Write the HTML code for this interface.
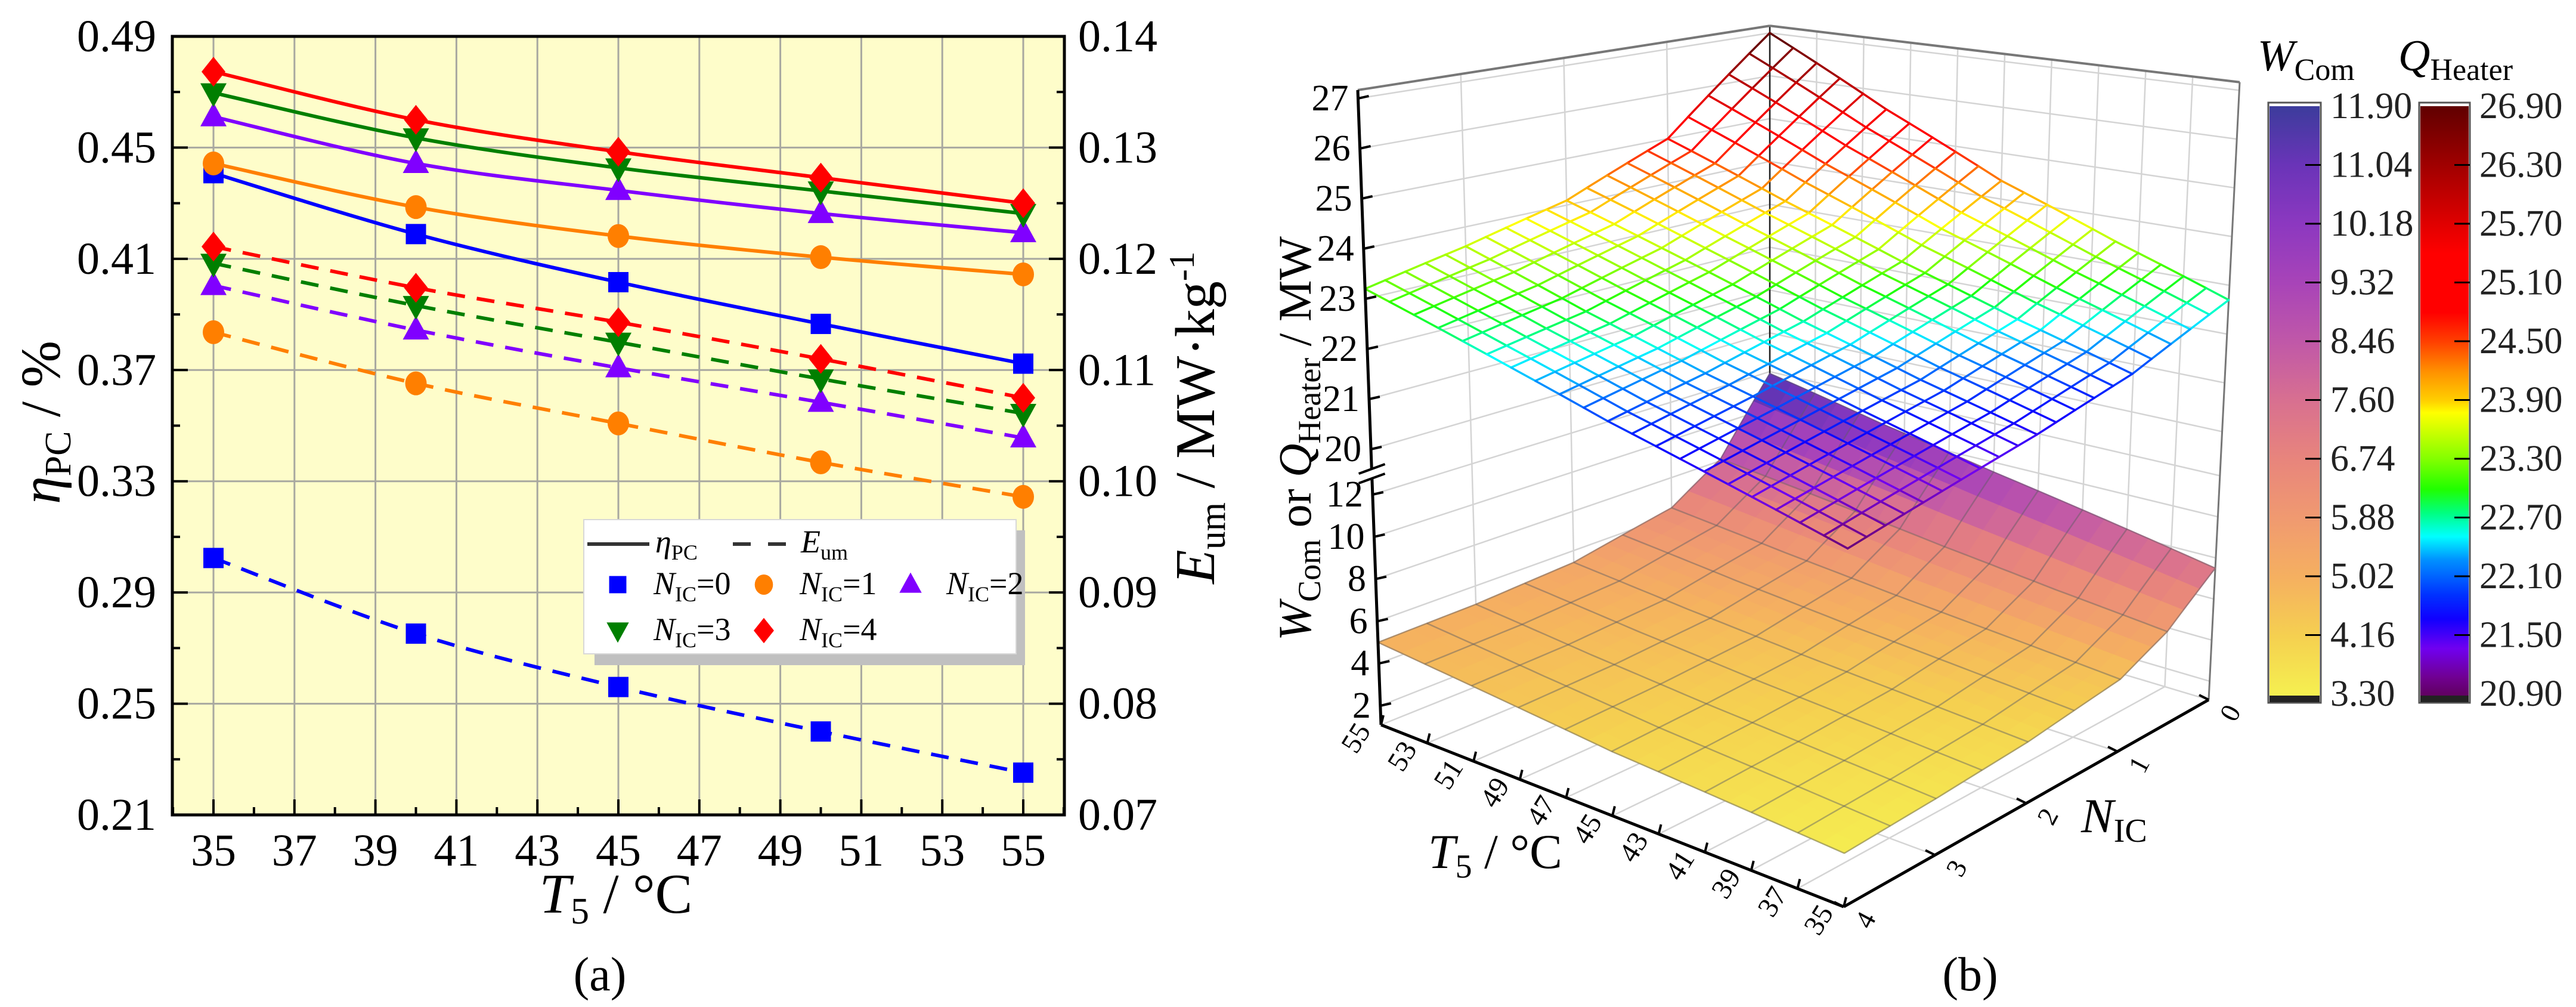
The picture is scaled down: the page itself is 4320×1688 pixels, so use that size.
<!DOCTYPE html>
<html><head><meta charset="utf-8"><title>Chart</title>
<style>
html,body{margin:0;padding:0;background:#fff;}
svg{display:block;}
svg text{font-family:"Liberation Serif","Times New Roman",Times,serif;}
</style></head>
<body>
<svg id="root" width="4320" height="1688" viewBox="0 0 4320 1688" xmlns="http://www.w3.org/2000/svg" font-family="Liberation Serif, Times New Roman, serif">
<rect x="0" y="0" width="4320" height="1688" fill="#ffffff"/>
<defs>
<linearGradient id="wgrad" x1="0" y1="0" x2="0" y2="1">
<stop offset="0" stop-color="#3c3c9c"/><stop offset="0.1" stop-color="#6a34b8"/><stop offset="0.2" stop-color="#8c38c0"/><stop offset="0.3" stop-color="#a844b8"/><stop offset="0.4" stop-color="#c058a8"/><stop offset="0.5" stop-color="#d87090"/><stop offset="0.6" stop-color="#e8857c"/><stop offset="0.7" stop-color="#f09a70"/><stop offset="0.8" stop-color="#f5b060"/><stop offset="0.9" stop-color="#f5d050"/><stop offset="1" stop-color="#f5f050"/>
</linearGradient>
<linearGradient id="qgrad" x1="0" y1="0" x2="0" y2="1">
<stop offset="0" stop-color="#600000"/><stop offset="0.1" stop-color="#a00000"/><stop offset="0.2" stop-color="#e00000"/><stop offset="0.25" stop-color="#ff0000"/><stop offset="0.35" stop-color="#ff0000"/><stop offset="0.4" stop-color="#ff4000"/><stop offset="0.45" stop-color="#ff9000"/><stop offset="0.5" stop-color="#ffd000"/><stop offset="0.52" stop-color="#ffff00"/><stop offset="0.6" stop-color="#80ff00"/><stop offset="0.65" stop-color="#20ff00"/><stop offset="0.69" stop-color="#00ff80"/><stop offset="0.73" stop-color="#00ffff"/><stop offset="0.77" stop-color="#0090ff"/><stop offset="0.83" stop-color="#0030ff"/><stop offset="0.87" stop-color="#1000ff"/><stop offset="0.92" stop-color="#7000f0"/><stop offset="0.97" stop-color="#700090"/><stop offset="1" stop-color="#600060"/>
</linearGradient>
</defs>
<g id="chartA"></g>
<g id="chartB"></g>
</svg>
<script>
// ===== Chart (a) data =====
const T5 = [35, 40, 45, 50, 55];
const etaPC_N0 = [0.4408, 0.4189, 0.4016, 0.3866, 0.3723];
const etaPC_N1 = [0.4443, 0.4286, 0.4182, 0.4106, 0.4044];
const etaPC_N2 = [0.4611, 0.4443, 0.4346, 0.4263, 0.4194];
const etaPC_N3 = [0.4697, 0.4535, 0.4427, 0.4344, 0.4263];
const etaPC_N4 = [0.4773, 0.4600, 0.4485, 0.4392, 0.4300];
const Eum_N0 = [0.0931, 0.0863, 0.0815, 0.0775, 0.0738];
const Eum_N1 = [0.1134, 0.1088, 0.1052, 0.1017, 0.0986];
const Eum_N2 = [0.1176, 0.1136, 0.1102, 0.1071, 0.1039];
const Eum_N3 = [0.1196, 0.1158, 0.1125, 0.1092, 0.1061];
const Eum_N4 = [0.1211, 0.1174, 0.1143, 0.1110, 0.1075];
const xTicks = [35, 37, 39, 41, 43, 45, 47, 49, 51, 53, 55];
const yLeftTicks = ["0.21", "0.25", "0.29", "0.33", "0.37", "0.41", "0.45", "0.49"];
const yRightTicks = ["0.07", "0.08", "0.09", "0.10", "0.11", "0.12", "0.13", "0.14"];
const seriesLabels = ["0", "1", "2", "3", "4"];

// ===== Chart (b) data =====
const gridT = [35, 40, 45, 50, 55];
const gridNW = [0, 0.5, 1, 2, 3, 4];
const W_N0 = [7.5, 8.5, 9.5, 10.6, 11.9];
const W_N05 = [5.6, 6.1, 6.7, 7.4, 8.1];
const W_N1 = [4.5, 4.9, 5.3, 5.8, 6.4];
const W_N2 = [3.9, 4.2, 4.5, 4.9, 5.4];
const W_N3 = [3.6, 3.9, 4.2, 4.6, 5.1];
const W_N4 = [3.4, 3.7, 4.0, 4.5, 5.0];
const gridNQ = [0, 1, 2, 3, 4];
const Q_N0 = [22.7, 23.5, 24.4, 25.6, 27.0];
const Q_N1 = [22.0, 22.6, 23.3, 24.1, 25.0];
const Q_N2 = [21.6, 22.1, 22.7, 23.4, 24.1];
const Q_N3 = [21.3, 21.8, 22.3, 22.9, 23.6];
const Q_N4 = [21.0, 21.5, 22.0, 22.6, 23.2];
const wBarLabels = ["11.90", "11.04", "10.18", "9.32", "8.46", "7.60", "6.74", "5.88", "5.02", "4.16", "3.30"];
const qBarLabels = ["26.90", "26.30", "25.70", "25.10", "24.50", "23.90", "23.30", "22.70", "22.10", "21.50", "20.90"];
const zTicksW = [2, 4, 6, 8, 10, 12];
const zTicksQ = [20, 21, 22, 23, 24, 25, 26, 27];
const tAxisTicks = [55, 53, 51, 49, 47, 45, 43, 41, 39, 37, 35];
const nAxisTicks = [0, 1, 2, 3, 4];

const NS = 'http://www.w3.org/2000/svg';
function mk(tag, attrs, parent) {
  const e = document.createElementNS(NS, tag);
  for (const k in attrs) e.setAttribute(k, attrs[k]);
  parent.appendChild(e);
  return e;
}
function subText(parent, x, y, parts, attrs) {
  const t = mk('text', Object.assign({x: x, y: y}, attrs || {}), parent);
  parts.forEach(p => {
    const s = mk('tspan', {}, t);
    if (p.i) s.setAttribute('font-style', 'italic');
    if (p.dy) s.setAttribute('dy', p.dy);
    if (p.fs) s.setAttribute('font-size', p.fs);
    s.textContent = p.t;
  });
  return t;
}

// ================= Chart (a) =================
const A = document.getElementById('chartA');
const PL = 289, PR = 1785, PT = 61, PB = 1366;
function xS(t) { return 358 + (t - 35) * (1716 - 358) / 20; }
function yL(v) { return PT + (0.49 - v) / 0.28 * (PB - PT); }
function yR(v) { return PT + (0.14 - v) / 0.07 * (PB - PT); }

const bg = mk('rect', {x: PL, y: PT, width: PR - PL, height: PB - PT, fill: '#fefdca'}, A);



xTicks.forEach(t => {
  const g = mk('line', {x1: xS(t), x2: xS(t), y1: PT, y2: PB, stroke: '#a8a8a0', 'stroke-width': 3}, A);
  
  
});
yLeftTicks.forEach(s => {
  const v = parseFloat(s);
  const g = mk('line', {x1: PL, x2: PR, y1: yL(v), y2: yL(v), stroke: '#a8a8a0', 'stroke-width': 3}, A);
  
  
});

for (let t = 34; t <= 56; t++) {
  const major = (t % 2 === 1);
  const len = major ? 26 : 13;
  const tk = mk('line', {x1: xS(t), x2: xS(t), y1: PB, y2: PB - len, stroke: '#000', 'stroke-width': 4}, A);
  
  
}
for (let i = 0; i <= 14; i++) {
  const y = PT + i * (PB - PT) / 14;
  const len = (i % 2 === 0) ? 26 : 13;
  const t1 = mk('line', {x1: PL, x2: PL + len, y1: y, y2: y, stroke: '#000', 'stroke-width': 4}, A);
  
  
  const t2 = mk('line', {x1: PR, x2: PR - len, y1: y, y2: y, stroke: '#000', 'stroke-width': 4}, A);
  
  
}

const colors = ['#0000ff', '#ff7f00', '#8000ff', '#007f00', '#ff0000'];
const markers = ['square', 'circle', 'tri-up', 'tri-down', 'diamond'];
const etaSeries = [etaPC_N0, etaPC_N1, etaPC_N2, etaPC_N3, etaPC_N4];
const eumSeries = [Eum_N0, Eum_N1, Eum_N2, Eum_N3, Eum_N4];

function smoothPath(pts) {
  let d = 'M' + pts[0][0] + ',' + pts[0][1];
  for (let i = 0; i < pts.length - 1; i++) {
    const p0 = pts[i - 1] || pts[i], p1 = pts[i], p2 = pts[i + 1], p3 = pts[i + 2] || pts[i + 1];
    const c1 = [p1[0] + (p2[0] - p0[0]) / 6, p1[1] + (p2[1] - p0[1]) / 6];
    const c2 = [p2[0] - (p3[0] - p1[0]) / 6, p2[1] - (p3[1] - p1[1]) / 6];
    d += ' C' + c1[0] + ',' + c1[1] + ' ' + c2[0] + ',' + c2[1] + ' ' + p2[0] + ',' + p2[1];
  }
  return d;
}
function drawMarker(parent, type, cx, cy, color, k) {
  k = k || 1;
  let e;
  if (type === 'square') e = mk('rect', {x: cx - 17 * k, y: cy - 17 * k, width: 34 * k, height: 34 * k, fill: color}, parent);
  else if (type === 'circle') e = mk('ellipse', {cx: cx, cy: cy, rx: 18 * k, ry: 20 * k, fill: color}, parent);
  else if (type === 'tri-up') e = mk('polygon', {points: [cx, cy - 24 * k, cx - 22 * k, cy + 16 * k, cx + 22 * k, cy + 16 * k].join(','), fill: color}, parent);
  else if (type === 'tri-down') e = mk('polygon', {points: [cx, cy + 24 * k, cx - 22 * k, cy - 16 * k, cx + 22 * k, cy - 16 * k].join(','), fill: color}, parent);
  else e = mk('polygon', {points: [cx, cy - 25 * k, cx + 20 * k, cy, cx, cy + 25 * k, cx - 20 * k, cy].join(','), fill: color}, parent);
  return e;
}
for (let s = 0; s < 5; s++) {
  const ep = T5.map((t, i) => [xS(t), yR(eumSeries[s][i])]);
  const l2 = mk('path', {d: smoothPath(ep), fill: 'none', stroke: colors[s], 'stroke-width': 6, 'stroke-dasharray': '30 20'}, A);
  
  
  const pp = T5.map((t, i) => [xS(t), yL(etaSeries[s][i])]);
  const l1 = mk('path', {d: smoothPath(pp), fill: 'none', stroke: colors[s], 'stroke-width': 6}, A);
  
  
}
for (let s = 0; s < 5; s++) {
  T5.forEach((t, i) => {
    const m1 = drawMarker(A, markers[s], xS(t), yR(eumSeries[s][i]), colors[s]);
    
    
    const m2 = drawMarker(A, markers[s], xS(t), yL(etaSeries[s][i]), colors[s]);
    
    
  });
}

const frame = mk('rect', {x: PL, y: PT, width: PR - PL, height: PB - PT, fill: 'none', stroke: '#000', 'stroke-width': 5}, A);



xTicks.forEach(t => {
  const tx = mk('text', {x: xS(t), y: 1426, 'font-size': 76, 'text-anchor': 'middle', 'dominant-baseline': 'central'}, A);
  tx.textContent = t;
  
  
});
yLeftTicks.forEach(s => {
  const tx = mk('text', {x: 262, y: yL(parseFloat(s)), 'font-size': 76, 'text-anchor': 'end', 'dominant-baseline': 'central'}, A);
  tx.textContent = s;
  
  
});
yRightTicks.forEach(s => {
  const tx = mk('text', {x: 1808, y: yR(parseFloat(s)), 'font-size': 76, 'text-anchor': 'start', 'dominant-baseline': 'central'}, A);
  tx.textContent = s;
  
  
});

const xt = subText(A, 1033, 1530, [{t: 'T', i: 1}, {t: '5', dy: 18, fs: 62}, {t: ' / °C', dy: -18}], {'font-size': 94, 'text-anchor': 'middle'});


const ylt = subText(A, 0, 0, [{t: 'η', i: 1}, {t: 'PC', dy: 18, fs: 62}, {t: ' / %', dy: -18}], {'font-size': 94, 'text-anchor': 'middle', transform: 'translate(100,708) rotate(-90)'});


const yrt = subText(A, 0, 0, [{t: 'E', i: 1}, {t: 'um', dy: 18, fs: 62}, {t: ' / MW·kg', dy: -18}, {t: '-1', dy: -34, fs: 60}], {'font-size': 94, 'text-anchor': 'middle', transform: 'translate(2036,700) rotate(-90)'});


const capA = mk('text', {x: 1006, y: 1660, 'font-size': 80, 'text-anchor': 'middle'}, A);
capA.textContent = '(a)';



// legend
const LG = mk('g', {}, A);


const lsh = mk('rect', {x: 997, y: 889, width: 722, height: 226, fill: '#c0c0c0'}, LG);


const lbx = mk('rect', {x: 979, y: 871, width: 725, height: 225, fill: '#ffffff', stroke: '#d8d8d8', 'stroke-width': 2}, LG);


const ll1 = mk('line', {x1: 985, x2: 1089, y1: 912, y2: 912, stroke: '#333', 'stroke-width': 6}, LG);


const lt1 = subText(LG, 1099, 926, [{t: 'η', i: 1}, {t: 'PC', dy: 12, fs: 36}], {'font-size': 54});


const ll2 = mk('line', {x1: 1229, x2: 1318, y1: 912, y2: 912, stroke: '#333', 'stroke-width': 6, 'stroke-dasharray': '30 29'}, LG);


const lt2 = subText(LG, 1343, 926, [{t: 'E', i: 1}, {t: 'um', dy: 12, fs: 36}], {'font-size': 54});


const legPos = [[1036, 980], [1281, 980], [1527, 980], [1036, 1057], [1281, 1057]];
for (let s = 0; s < 5; s++) {
  const [lx, ly] = legPos[s];
  const m = drawMarker(LG, markers[s], lx, ly, colors[s], 0.85);
  
  
  const t = subText(LG, lx + 60, ly + 16, [{t: 'N', i: 1}, {t: 'IC', dy: 12, fs: 36}, {t: '=' + seriesLabels[s], dy: -12}], {'font-size': 54});
  
  
}

// ================= Chart (b) =================
const B = document.getElementById('chartB');
const FBk = [2968, 953], FR = [3704, 1173], FL = [2316, 1215], FF = [3092, 1520];
const ZTOP = 1064;
function sc(a, b) { return 0.855 * (1 - a) * (1 - b) + 0.973 * a * (1 - b) + 1.0 * (1 - a) * b + 1.1 * a * b; }
function proj(a, b, off) {
  const fx = (1 - a) * (1 - b) * FBk[0] + a * (1 - b) * FR[0] + (1 - a) * b * FL[0] + a * b * FF[0];
  const fy = (1 - a) * (1 - b) * FBk[1] + a * (1 - b) * FR[1] + (1 - a) * b * FL[1] + a * b * FF[1];
  const s = sc(a, b);
  const lean = (a * 52 - b * 39) * (off / ZTOP);
  return [fx + lean, fy - off * s];
}
function aOf(T) { return (55 - T) / 20; }
function bOf(N) { return N / 4; }
function offW(w) { return 32 + (w - 2) * 35.4; }
function offQ(q) { return 462 + (q - 20) * 84; }
function pts(arr) { return arr.map(p => p[0].toFixed(1) + ',' + p[1].toFixed(1)).join(' '); }

const wl = mk('polygon', {points: pts([proj(0, 0, 0), proj(0, 1, 0), proj(0, 1, ZTOP), proj(0, 0, ZTOP)]), fill: '#fff'}, B);


const wr = mk('polygon', {points: pts([proj(0, 0, 0), proj(1, 0, 0), proj(1, 0, ZTOP), proj(0, 0, ZTOP)]), fill: '#fff'}, B);


function gline(p1, p2, name, col, w) {
  return mk('line', {x1: p1[0], y1: p1[1], x2: p2[0], y2: p2[1], stroke: col || '#d4d4d4', 'stroke-width': w || 2.5}, B);
}
const zOffs = zTicksW.map(offW).concat(zTicksQ.map(offQ));
zOffs.forEach(o => {
  const l1 = gline(proj(0, 1, o), proj(0, 0, o));
  
  
  const l2 = gline(proj(0, 0, o), proj(1, 0, o));
  
  
});
nAxisTicks.forEach(n => {
  const l = gline(proj(0, bOf(n), 0), proj(0, bOf(n), ZTOP));
  
  
  const f = gline(proj(0, bOf(n), 0), proj(1, bOf(n), 0));
  
  
});
tAxisTicks.forEach(t => {
  const l = gline(proj(aOf(t), 0, 0), proj(aOf(t), 0, ZTOP));
  
  
  const f = gline(proj(aOf(t), 0, 0), proj(aOf(t), 1, 0));
  
  
});
[[[0, 0, 0], [0, 0, ZTOP], '#222', 2.5], [[0, 1, ZTOP], [0, 0, ZTOP], '#777', 4], [[0, 0, ZTOP], [1, 0, ZTOP], '#777', 4], [[1, 0, 0], [1, 0, ZTOP], '#777', 3]].forEach(e => {
  const l = gline(proj(e[0][0], e[0][1], e[0][2]), proj(e[1][0], e[1][1], e[1][2]), '', e[2], e[3]);
  
  
});

const Wrows = [W_N0, W_N05, W_N1, W_N2, W_N3, W_N4];
const Qrows = [Q_N0, Q_N1, Q_N2, Q_N3, Q_N4];
function interp(gN, rows, T, N) {
  let ti = Math.min(3, Math.floor((T - 35) / 5)); if (ti < 0) ti = 0;
  const ft = (T - gridT[ti]) / 5;
  let ni = 0; while (ni < gN.length - 2 && N > gN[ni + 1]) ni++;
  const fn = (N - gN[ni]) / (gN[ni + 1] - gN[ni]);
  const r0 = rows[ni][ti] * (1 - ft) + rows[ni][ti + 1] * ft;
  const r1 = rows[ni + 1][ti] * (1 - ft) + rows[ni + 1][ti + 1] * ft;
  return r0 * (1 - fn) + r1 * fn;
}
function hex(c) { return [parseInt(c.slice(1, 3), 16), parseInt(c.slice(3, 5), 16), parseInt(c.slice(5, 7), 16)]; }
function cmap(stops, v) {
  if (v <= stops[0][0]) return stops[0][1];
  for (let i = 0; i < stops.length - 1; i++) {
    if (v <= stops[i + 1][0]) {
      const f = (v - stops[i][0]) / (stops[i + 1][0] - stops[i][0]);
      const c1 = hex(stops[i][1]), c2 = hex(stops[i + 1][1]);
      return 'rgb(' + c1.map((c, k) => Math.round(c + (c2[k] - c) * f)).join(',') + ')';
    }
  }
  return stops[stops.length - 1][1];
}
const WC = [[3.3, '#f5f050'], [4.16, '#f5d050'], [5.02, '#f5b060'], [5.88, '#f09a70'], [6.74, '#e8857c'], [7.6, '#d87090'], [8.46, '#c058a8'], [9.32, '#a844b8'], [10.18, '#8c38c0'], [11.04, '#6a34b8'], [11.9, '#3c3c9c']];
const QC = [[20.9, '#600060'], [21.1, '#700090'], [21.4, '#7000f0'], [21.7, '#1000ff'], [21.95, '#0030ff'], [22.3, '#0090ff'], [22.55, '#00ffff'], [22.75, '#00ff80'], [23.0, '#20ff00'], [23.3, '#80ff00'], [23.85, '#ffff00'], [24.0, '#ffd000'], [24.4, '#ff9000'], [24.7, '#ff4000'], [25.0, '#ff0000'], [25.4, '#ff0000'], [25.7, '#e00000'], [26.3, '#a00000'], [26.9, '#600000']];

const WS = mk('g', {}, B);


const NTs = 20, NNs = 24;
const quads = [];
for (let i = 0; i < NTs; i++) for (let j = 0; j < NNs; j++) quads.push([i, j]);
quads.sort((p, q) => (p[0] / NTs + p[1] / NNs) - (q[0] / NTs + q[1] / NNs));
function wp(i, j) {
  const T = 55 - 20 * i / NTs, N = 4 * j / NNs;
  return proj(aOf(T), bOf(N), offW(interp(gridNW, Wrows, T, N)));
}
quads.forEach(([i, j]) => {
  const T = 55 - 20 * (i + 0.5) / NTs, N = 4 * (j + 0.5) / NNs;
  const c = cmap(WC, interp(gridNW, Wrows, T, N));
  const q = mk('polygon', {points: pts([wp(i, j), wp(i + 1, j), wp(i + 1, j + 1), wp(i, j + 1)]), fill: c, stroke: c, 'stroke-width': 1.5}, WS);
  
  
});
function wline(Tfix, Nfix) {
  const arr = [];
  for (let k = 0; k <= 40; k++) {
    const T = Tfix !== null ? Tfix : 55 - 20 * k / 40;
    const N = Nfix !== null ? Nfix : 4 * k / 40;
    arr.push(proj(aOf(T), bOf(N), offW(interp(gridNW, Wrows, T, N))));
  }
  return mk('polyline', {points: pts(arr), fill: 'none', stroke: 'rgba(90,90,100,0.45)', 'stroke-width': 2.5}, WS);
}
tAxisTicks.forEach(t => {
  const l = wline(t, null);
  
  
});
[0, 0.5, 1, 1.5, 2, 2.5, 3, 3.5, 4].forEach(n => {
  const l = wline(null, n);
  
  
});

const QM = mk('g', {}, B);


const MQ = 20;
function qp(T, N) { return proj(aOf(T), bOf(N), offQ(interp(gridNQ, Qrows, T, N))); }
for (let i = 0; i <= MQ; i++) {
  for (let j = 0; j < MQ; j++) {
    const Tc = 55 - 20 * i / MQ, N1 = 4 * j / MQ, N2 = 4 * (j + 1) / MQ;
    const p1 = qp(Tc, N1), p2 = qp(Tc, N2);
    const c1 = cmap(QC, interp(gridNQ, Qrows, Tc, (N1 + N2) / 2));
    const s1 = mk('line', {x1: p1[0], y1: p1[1], x2: p2[0], y2: p2[1], stroke: c1, 'stroke-width': 3.5, 'stroke-linecap': 'round'}, QM);
    
    
    const Nc = 4 * i / MQ, T1 = 55 - 20 * j / MQ, T2 = 55 - 20 * (j + 1) / MQ;
    const p3 = qp(T1, Nc), p4 = qp(T2, Nc);
    const c2 = cmap(QC, interp(gridNQ, Qrows, (T1 + T2) / 2, Nc));
    const s2 = mk('line', {x1: p3[0], y1: p3[1], x2: p4[0], y2: p4[1], stroke: c2, 'stroke-width': 3.5, 'stroke-linecap': 'round'}, QM);
    
    
  }
}

[[[0, 1, 0], [0, 1, ZTOP]], [[0, 1, 0], [1, 1, 0]], [[1, 1, 0], [1, 0, 0]]].forEach(e => {
  const l = gline(proj(e[0][0], e[0][1], e[0][2]), proj(e[1][0], e[1][1], e[1][2]), '', '#000', 5);
  
  
});
const bp = proj(0, 1, 420);
const brk = mk('rect', {x: bp[0] - 14, y: bp[1] - 10, width: 28, height: 18, fill: '#fff'}, B);


[-9, 7].forEach(d => {
  const l = mk('line', {x1: bp[0] - 22, y1: bp[1] + d + 8, x2: bp[0] + 22, y2: bp[1] + d - 8, stroke: '#000', 'stroke-width': 4}, B);
  
  
});
function zTick(off, label) {
  const p = proj(0, 1, off);
  const tk = mk('line', {x1: p[0], y1: p[1], x2: p[0] + 18, y2: p[1] - 4, stroke: '#000', 'stroke-width': 4}, B);
  
  
  const t = mk('text', {x: p[0] - 16, y: p[1], 'font-size': 62, 'text-anchor': 'end', 'dominant-baseline': 'central'}, B);
  t.textContent = label;
  
  
}
zTicksW.forEach(w => zTick(offW(w), String(w)));
zTicksQ.forEach(q => zTick(offQ(q), String(q)));
tAxisTicks.forEach(t => {
  const p = proj(aOf(t), 1, 0);
  const tk = mk('line', {x1: p[0], y1: p[1], x2: p[0] + 4, y2: p[1] - 16, stroke: '#000', 'stroke-width': 4}, B);
  
  
  const tx = mk('text', {x: 0, y: 0, 'font-size': 48, 'text-anchor': 'middle', 'dominant-baseline': 'central', transform: 'translate(' + (p[0] - 42) + ',' + (p[1] + 22) + ') rotate(-58)'}, B);
  tx.textContent = t;
  
  
});
nAxisTicks.forEach(n => {
  const p = proj(1, bOf(n), 0);
  const tk = mk('line', {x1: p[0], y1: p[1], x2: p[0] - 16, y2: p[1] - 8, stroke: '#000', 'stroke-width': 4}, B);
  
  
  const tx = mk('text', {x: 0, y: 0, 'font-size': 46, 'text-anchor': 'middle', 'dominant-baseline': 'central', transform: 'translate(' + (p[0] + 36) + ',' + (p[1] + 22) + ') rotate(-62)'}, B);
  tx.textContent = n;
  
  
});
const tTitle = subText(B, 2395, 1455, [{t: 'T', i: 1}, {t: '5', dy: 16, fs: 56}, {t: ' / °C', dy: -16}], {'font-size': 82});


const nTitle = subText(B, 3490, 1395, [{t: 'N', i: 1}, {t: 'IC', dy: 16, fs: 56}], {'font-size': 82});


const zTitle = subText(B, 0, 0, [{t: 'W', i: 1}, {t: 'Com', dy: 16, fs: 54}, {t: ' or ', dy: -16}, {t: 'Q', i: 1}, {t: 'Heater', dy: 16, fs: 54}, {t: ' / MW', dy: -16}], {'font-size': 78, 'text-anchor': 'middle', transform: 'translate(2198,735) rotate(-90)'});


const capB = mk('text', {x: 3304, y: 1660, 'font-size': 80, 'text-anchor': 'middle'}, B);
capB.textContent = '(b)';



function colorbar(x, w, grad, labels, titleParts, tx, nm) {
  const g = mk('g', {}, B);
  
  
  const fr = mk('rect', {x: x, y: 172, width: w, height: 1006, fill: '#fff', stroke: '#555', 'stroke-width': 3}, g);
  
  
  const r = mk('rect', {x: x + 2, y: 178, width: w - 4, height: 988, fill: 'url(#' + grad + ')'}, g);
  
  
  const bt = mk('rect', {x: x + 2, y: 1166, width: w - 4, height: 11, fill: '#222'}, g);
  
  
  labels.forEach((lb, i) => {
    const y = 178 + i * 98.5;
    if (i > 0 && i < labels.length - 1) {
      const tk = mk('line', {x1: x + w - 26, x2: x + w, y1: y, y2: y, stroke: '#000', 'stroke-width': 3}, g);
      
      
    }
    const t = mk('text', {x: x + w + 16, y: y, 'font-size': 62, 'dominant-baseline': 'central', fill: '#222'}, g);
    t.textContent = lb;
    
    
  });
  const tt = subText(g, tx, 118, titleParts, {'font-size': 74});
  
  
}
colorbar(3804, 88, 'wgrad', wBarLabels, [{t: 'W', i: 1}, {t: 'Com', dy: 16, fs: 52}], 3786, 'w-com-colorbar');
colorbar(4057, 85, 'qgrad', qBarLabels, [{t: 'Q', i: 1}, {t: 'Heater', dy: 16, fs: 52}], 4022, 'q-heater-colorbar');
</script>
</body></html>
